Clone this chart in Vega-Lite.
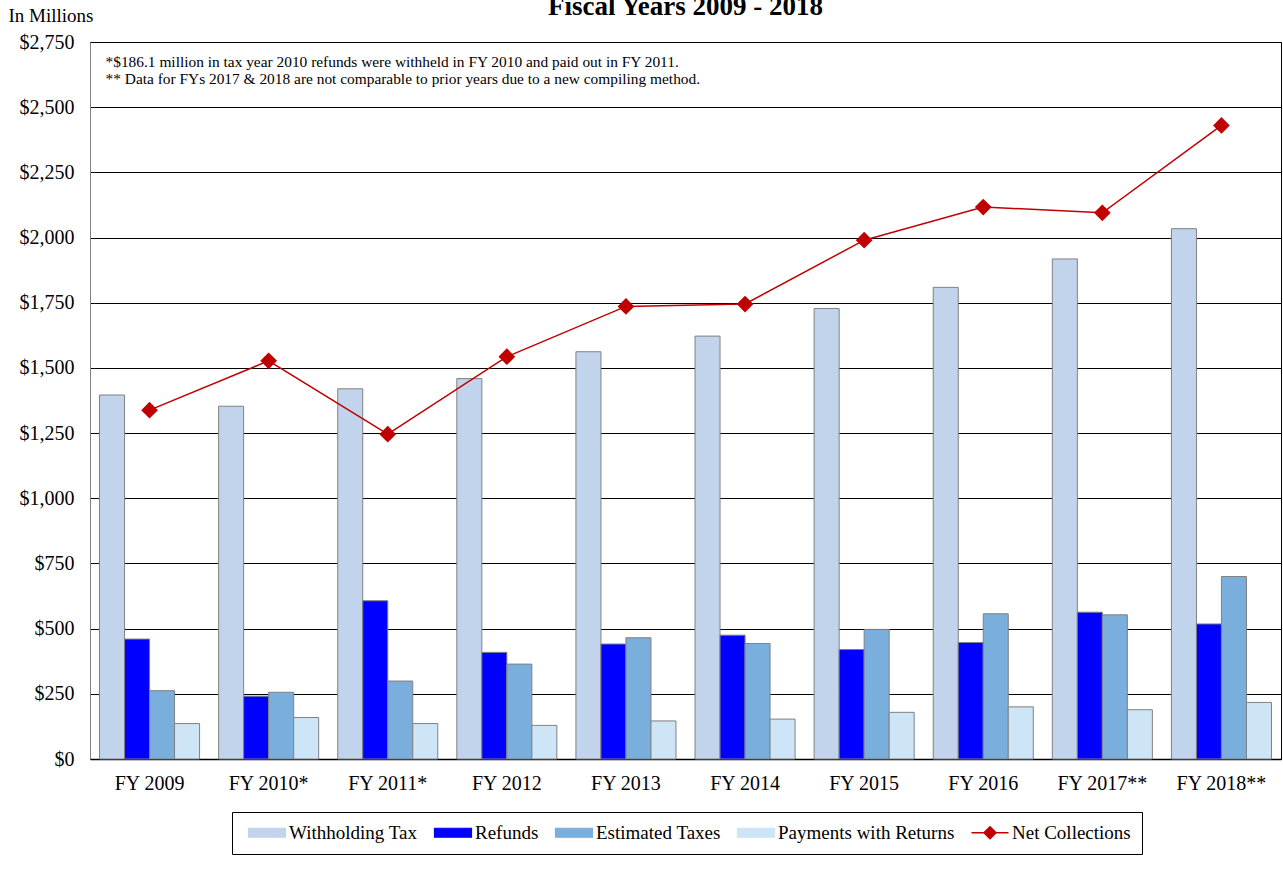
{
  "$schema": "https://vega.github.io/schema/vega-lite/v6.json",
  "width": 1191,
  "height": 717,
  "autosize": {"type": "none"},
  "padding": {"left": 90, "top": 42, "right": 2, "bottom": 119},
  "background": "white",
  "title": {"text": "Fiscal Years 2009 - 2018", "font": "Liberation Serif", "fontSize": 27, "fontWeight": "bold", "color": "#000", "anchor": "middle", "frame": "group", "baseline": "alphabetic", "offset": 0, "dy": 36},
  "config": {
    "view": {"stroke": "#000", "strokeWidth": 1},
    "font": "Liberation Serif",
    "axis": {"labelFont": "Liberation Serif", "labelColor": "#000", "titleFont": "Liberation Serif", "titleColor": "#000", "titleFontWeight": "normal"}
  },
  "data": {"values": [
    {"fy": "FY 2009", "series": "Withholding Tax", "value": 1396},
    {"fy": "FY 2009", "series": "Refunds", "value": 460},
    {"fy": "FY 2009", "series": "Estimated Taxes", "value": 262},
    {"fy": "FY 2009", "series": "Payments with Returns", "value": 136},
    {"fy": "FY 2009", "series": "Net Collections", "value": 1338},
    {"fy": "FY 2010*", "series": "Withholding Tax", "value": 1353},
    {"fy": "FY 2010*", "series": "Refunds", "value": 241},
    {"fy": "FY 2010*", "series": "Estimated Taxes", "value": 256},
    {"fy": "FY 2010*", "series": "Payments with Returns", "value": 159},
    {"fy": "FY 2010*", "series": "Net Collections", "value": 1527},
    {"fy": "FY 2011*", "series": "Withholding Tax", "value": 1420},
    {"fy": "FY 2011*", "series": "Refunds", "value": 607},
    {"fy": "FY 2011*", "series": "Estimated Taxes", "value": 299},
    {"fy": "FY 2011*", "series": "Payments with Returns", "value": 136},
    {"fy": "FY 2011*", "series": "Net Collections", "value": 1246},
    {"fy": "FY 2012", "series": "Withholding Tax", "value": 1459},
    {"fy": "FY 2012", "series": "Refunds", "value": 409},
    {"fy": "FY 2012", "series": "Estimated Taxes", "value": 364},
    {"fy": "FY 2012", "series": "Payments with Returns", "value": 129},
    {"fy": "FY 2012", "series": "Net Collections", "value": 1543},
    {"fy": "FY 2013", "series": "Withholding Tax", "value": 1562},
    {"fy": "FY 2013", "series": "Refunds", "value": 441},
    {"fy": "FY 2013", "series": "Estimated Taxes", "value": 465},
    {"fy": "FY 2013", "series": "Payments with Returns", "value": 146},
    {"fy": "FY 2013", "series": "Net Collections", "value": 1736},
    {"fy": "FY 2014", "series": "Withholding Tax", "value": 1622},
    {"fy": "FY 2014", "series": "Refunds", "value": 475},
    {"fy": "FY 2014", "series": "Estimated Taxes", "value": 443},
    {"fy": "FY 2014", "series": "Payments with Returns", "value": 153},
    {"fy": "FY 2014", "series": "Net Collections", "value": 1745},
    {"fy": "FY 2015", "series": "Withholding Tax", "value": 1728},
    {"fy": "FY 2015", "series": "Refunds", "value": 420},
    {"fy": "FY 2015", "series": "Estimated Taxes", "value": 497},
    {"fy": "FY 2015", "series": "Payments with Returns", "value": 179},
    {"fy": "FY 2015", "series": "Net Collections", "value": 1990},
    {"fy": "FY 2016", "series": "Withholding Tax", "value": 1809},
    {"fy": "FY 2016", "series": "Refunds", "value": 447},
    {"fy": "FY 2016", "series": "Estimated Taxes", "value": 557},
    {"fy": "FY 2016", "series": "Payments with Returns", "value": 200},
    {"fy": "FY 2016", "series": "Net Collections", "value": 2117},
    {"fy": "FY 2017**", "series": "Withholding Tax", "value": 1918},
    {"fy": "FY 2017**", "series": "Refunds", "value": 563},
    {"fy": "FY 2017**", "series": "Estimated Taxes", "value": 553},
    {"fy": "FY 2017**", "series": "Payments with Returns", "value": 189},
    {"fy": "FY 2017**", "series": "Net Collections", "value": 2095},
    {"fy": "FY 2018**", "series": "Withholding Tax", "value": 2034},
    {"fy": "FY 2018**", "series": "Refunds", "value": 518},
    {"fy": "FY 2018**", "series": "Estimated Taxes", "value": 700},
    {"fy": "FY 2018**", "series": "Payments with Returns", "value": 217},
    {"fy": "FY 2018**", "series": "Net Collections", "value": 2430}
  ]},
  "layer": [
    {
      "transform": [{"filter": "datum.series !== 'Net Collections'"}],
      "mark": {"type": "bar", "stroke": "#808080", "strokeWidth": 1},
      "encoding": {
        "x": {"field": "fy", "type": "nominal", "sort": ["FY 2009", "FY 2010*", "FY 2011*", "FY 2012", "FY 2013", "FY 2014", "FY 2015", "FY 2016", "FY 2017**", "FY 2018**"],
              "scale": {"paddingInner": 0.16, "paddingOuter": 0.08},
              "axis": {"title": null, "labelAngle": 0, "ticks": false, "domainColor": "#000", "domainWidth": 1.5, "labelFontSize": 20, "labelPadding": 14, "grid": false}},
        "xOffset": {"field": "series", "type": "nominal", "scale": {"domain": ["Withholding Tax", "Refunds", "Estimated Taxes", "Payments with Returns"], "paddingInner": 0, "paddingOuter": 0}},
        "y": {"field": "value", "type": "quantitative", "scale": {"domain": [0, 2750], "nice": false},
              "axis": {"title": "In Millions", "titleAngle": 0, "titleAlign": "left", "titleBaseline": "alphabetic", "titleX": -82, "titleY": -21, "titleFontSize": 19,
                       "values": [0, 250, 500, 750, 1000, 1250, 1500, 1750, 2000, 2250, 2500, 2750], "format": "$,.0f",
                       "labelFontSize": 20, "labelPadding": 16, "ticks": false, "domainColor": "#808080", "grid": true, "gridColor": "#000", "gridWidth": 1}},
        "color": {"field": "series", "type": "nominal",
                  "scale": {"domain": ["Withholding Tax", "Refunds", "Estimated Taxes", "Payments with Returns", "Net Collections"], "range": ["#C2D4EC", "#0000FF", "#7AAEDD", "#CDE5F6", "#C00000"]},
                  "legend": {"title": null, "orient": "none", "legendX": 142, "legendY": 770, "direction": "horizontal", "strokeColor": "#000", "padding": 11,
                             "labelFont": "Liberation Serif", "labelFontSize": 19, "labelColor": "#000", "labelOffset": 12.5, "labelLimit": 400, "columnPadding": 11, "symbolSize": 400, "symbolOffset": 14.5,
                             "encode": {"symbols": {"update": {
                               "shape": {"signal": "datum.value === 'Net Collections' ? 'M-1.85,0H1.85M0,-0.6L0.6,0L0,0.6L-0.6,0Z' : 'M-1.85,-0.45H1.85V0.45H-1.85Z'"},
                               "stroke": {"signal": "datum.value === 'Net Collections' ? '#C00000' : '#7F7F7F'"},
                               "strokeWidth": {"signal": "datum.value === 'Net Collections' ? 1.5 : 1.2"},
                               "fill": {"scale": "color", "field": "value"},
                               "fillOpacity": {"value": 1},
                               "opacity": {"value": 1}
                             }}}}}
      }
    },
    {
      "transform": [{"filter": "datum.series === 'Net Collections'"}],
      "mark": {"type": "line", "strokeWidth": 1.5, "point": {"shape": "diamond", "size": 280, "filled": true}},
      "encoding": {
        "x": {"field": "fy", "type": "nominal", "sort": ["FY 2009", "FY 2010*", "FY 2011*", "FY 2012", "FY 2013", "FY 2014", "FY 2015", "FY 2016", "FY 2017**", "FY 2018**"]},
        "y": {"field": "value", "type": "quantitative"},
        "color": {"field": "series", "type": "nominal",
                  "legend": {"title": null, "orient": "none", "legendX": 142, "legendY": 770, "direction": "horizontal", "strokeColor": "#000", "padding": 11,
                             "labelFont": "Liberation Serif", "labelFontSize": 19, "labelColor": "#000", "labelOffset": 12.5, "labelLimit": 400, "columnPadding": 11, "symbolSize": 400, "symbolOffset": 14.5,
                             "encode": {"symbols": {"update": {
                               "shape": {"signal": "datum.value === 'Net Collections' ? 'M-1.85,0H1.85M0,-0.6L0.6,0L0,0.6L-0.6,0Z' : 'M-1.85,-0.45H1.85V0.45H-1.85Z'"},
                               "stroke": {"signal": "datum.value === 'Net Collections' ? '#C00000' : '#7F7F7F'"},
                               "strokeWidth": {"signal": "datum.value === 'Net Collections' ? 1.5 : 1.2"},
                               "fill": {"scale": "color", "field": "value"},
                               "fillOpacity": {"value": 1},
                               "opacity": {"value": 1}
                             }}}}}
      }
    },
    {
      "data": {"values": [{"note": "*$186.1 million in tax year 2010 refunds were withheld in FY 2010 and paid out in FY 2011."}]},
      "mark": {"type": "text", "align": "left", "baseline": "middle", "font": "Liberation Serif", "fontSize": 15.4, "dx": 6, "color": "#000"},
      "encoding": {"x": {"datum": "FY 2009", "type": "nominal", "bandPosition": 0}, "y": {"datum": 2672, "type": "quantitative"}, "text": {"field": "note"}}
    },
    {
      "data": {"values": [{"note": "** Data for FYs 2017 & 2018 are not comparable to prior years due to a new compiling method."}]},
      "mark": {"type": "text", "align": "left", "baseline": "middle", "font": "Liberation Serif", "fontSize": 15.4, "dx": 6, "color": "#000"},
      "encoding": {"x": {"datum": "FY 2009", "type": "nominal", "bandPosition": 0}, "y": {"datum": 2607, "type": "quantitative"}, "text": {"field": "note"}}
    }
  ]
}
